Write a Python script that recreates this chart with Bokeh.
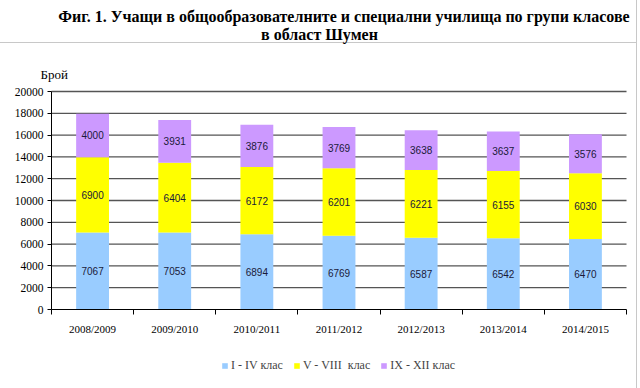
import numpy as np
from bokeh.plotting import figure
from bokeh.models import (Legend, LegendItem, FixedTicker, Label,
                          ColumnDataSource, Range1d)
from bokeh.core.properties import value
from bokeh.embed import file_html
from bokeh.resources import INLINE

years = ["2008/2009", "2009/2010", "2010/2011", "2011/2012", "2012/2013", "2013/2014", "2014/2015"]
grade_1_4 = [7067, 7053, 6894, 6769, 6587, 6542, 6470]
grade_5_8 = [6900, 6404, 6172, 6201, 6221, 6155, 6030]
grade_9_12 = [4000, 3931, 3876, 3769, 3638, 3637, 3576]
series_names = ["I - IV клас", "V - VIII  клас", "IX - XII клас"]
colors = ["#99CCFF", "#FFFF00", "#CC99FF"]
y_ticks = list(range(0, 20001, 2000))
y_max = 20000
title_line1 = "Фиг. 1. Учащи в общообразователните и специални училища по групи класове"
title_line2 = "в област Шумен"
y_label = "Брой"

# layout (pixels)
W, H = 640, 388
PX_L, PX_R, PX_Y0, PX_YTOP = 51, 626, 309, 91
n = len(years)
xs = (PX_R - PX_L) / n
ys = (PX_Y0 - PX_YTOP) / y_max
x_range = Range1d(-PX_L / xs, n + (W - PX_R) / xs)
y_range = Range1d(-(H - PX_Y0) / ys, y_max + PX_YTOP / ys)

GRAY = "#c8c8c8"
p = figure(width=W, height=H, output_backend="svg", toolbar_location=None,
           x_range=x_range, y_range=y_range,
           min_border_left=0, min_border_right=0, min_border_top=0, min_border_bottom=0)
p.outline_line_color = None
p.background_fill_alpha = 0
p.border_fill_alpha = 0
p.grid.visible = False
p.styles = {"background": f"linear-gradient({GRAY},{GRAY}) 0px 42px / 637px 1px no-repeat, "
                          f"linear-gradient({GRAY},{GRAY}) 636px 0px / 1px 100% no-repeat, #ffffff"}

# horizontal gridlines over the category span
grid_y = [t for t in y_ticks if t > 0]
p.segment(x0=[0] * len(grid_y), x1=[n] * len(grid_y), y0=grid_y, y1=grid_y,
          line_color="#555555", line_width=1.3)

xc = np.arange(n) + 0.5
s1 = np.array(grade_1_4, dtype=float)
s2 = np.array(grade_5_8, dtype=float)
s3 = np.array(grade_9_12, dtype=float)
src = ColumnDataSource(dict(x=xc, a=s1, b=s2, c=s3))
rs = p.vbar_stack(["a", "b", "c"], x="x", width=0.4, source=src, color=colors, line_color=None)

lab_x = np.concatenate([xc, xc, xc])
lab_y = np.concatenate([s1 / 2, s1 + s2 / 2, s1 + s2 + s3 / 2])
lab_t = [str(v) for v in grade_1_4 + grade_5_8 + grade_9_12]
p.text(x=lab_x, y=lab_y, text=lab_t, text_align="center", text_baseline="middle",
       text_font=value("Liberation Sans"), text_font_size="10px", text_color="#1a1a3a")

# axes drawn at data zero
p.xaxis.fixed_location = 0
p.xaxis.bounds = (0, n)
p.xaxis.ticker = FixedTicker(ticks=list(xc), minor_ticks=list(range(n + 1)))
p.xaxis.major_label_overrides = {float(x): y for x, y in zip(xc, years)}
p.xaxis.major_tick_line_color = None
p.xaxis.major_tick_out = 0
p.xaxis.major_tick_in = 0
p.xaxis.minor_tick_out = 5
p.xaxis.minor_tick_in = 0
p.xaxis.minor_tick_line_color = "black"
p.xaxis.axis_line_color = "black"
p.xaxis.major_label_text_font = "Liberation Serif"
p.xaxis.major_label_text_font_size = "11px"
p.xaxis.major_label_text_color = "black"
p.xaxis.major_label_standoff = 8

p.yaxis.fixed_location = 0
p.yaxis.bounds = (0, y_max)
p.yaxis.ticker = FixedTicker(ticks=y_ticks, minor_ticks=[])
p.yaxis.major_tick_out = 4
p.yaxis.major_tick_in = 0
p.yaxis.axis_line_color = "black"
p.yaxis.major_tick_line_color = "black"
p.yaxis.major_label_text_font = "Liberation Serif"
p.yaxis.major_label_text_font_size = "11.5px"
p.yaxis.major_label_text_color = "black"
p.yaxis.major_label_standoff = 4

legend = Legend(items=[LegendItem(label=nm, renderers=[r]) for nm, r in zip(series_names, rs)],
                orientation="horizontal", location=(221, 15),
                glyph_width=7, glyph_height=7, label_standoff=3, spacing=10, label_height=14,
                label_text_font="Liberation Serif", label_text_font_size="12px",
                border_line_color=None, background_fill_alpha=0, margin=0, padding=2)
p.add_layout(legend)

tf = dict(x_units="screen", y_units="screen", text_font="Liberation Serif",
          text_color="black", text_baseline="alphabetic")
p.add_layout(Label(x=343.5, y=H - 16, text=title_line1, text_align="center",
                   text_font_size="16px", text_font_style="bold", **tf))
p.add_layout(Label(x=319, y=H - 34, text=title_line2, text_align="center",
                   text_font_size="16px", text_font_style="bold", **tf))
p.add_layout(Label(x=40, y=H - 74, text=y_label, text_align="left",
                   text_font_size="13px", **tf))

open("out.html", "w").write(file_html(p, INLINE))
